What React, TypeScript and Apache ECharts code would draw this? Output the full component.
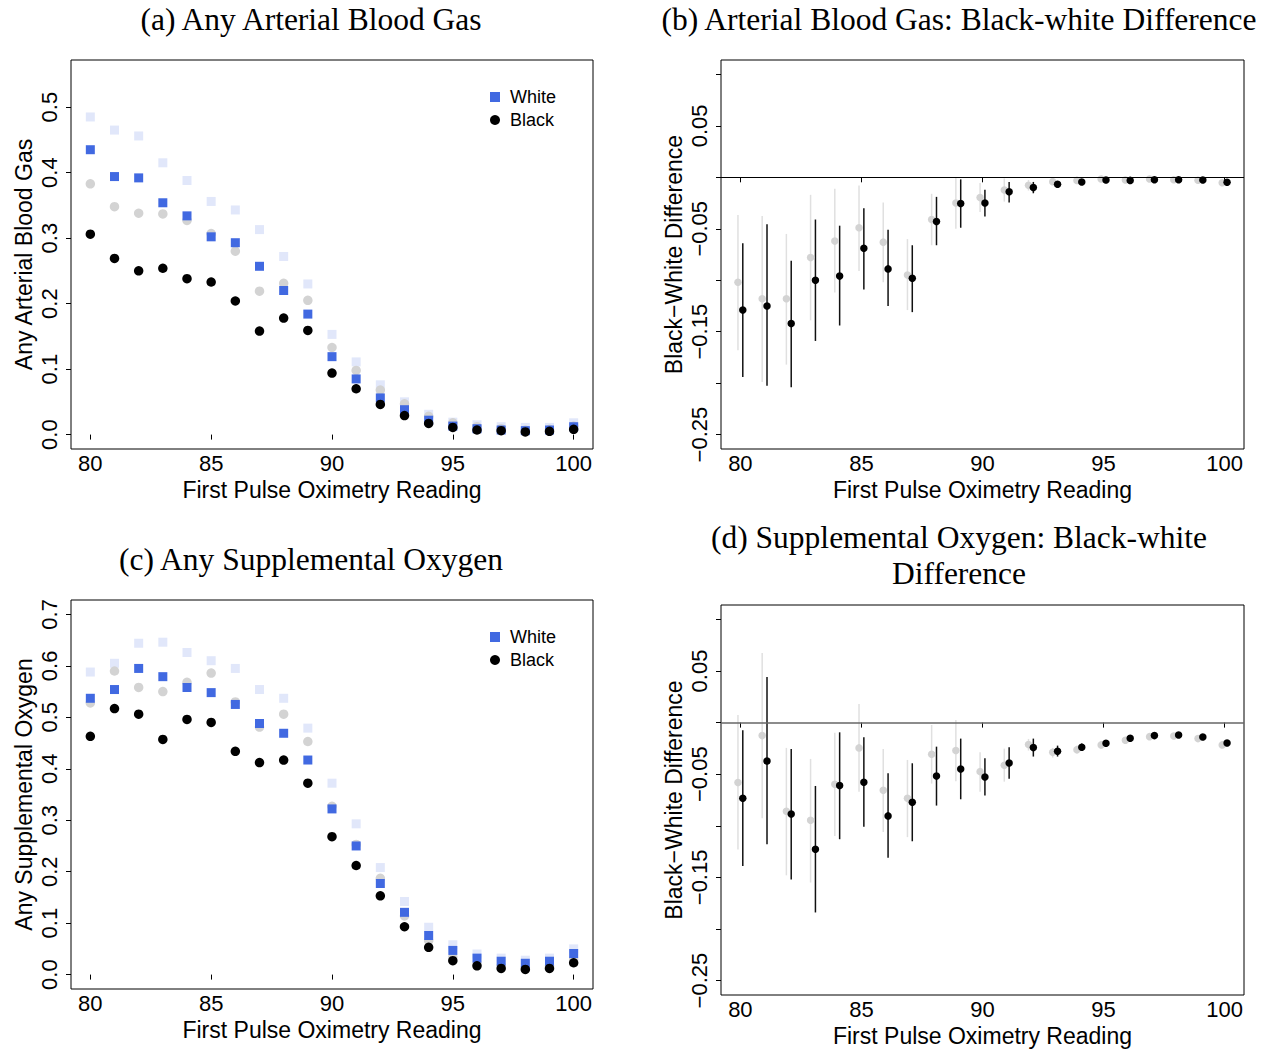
import React, { useEffect, useRef } from 'react';
import * as echarts from 'echarts';

// ---------- data ----------
const oximetry = [80, 81, 82, 83, 84, 85, 86, 87, 88, 89, 90, 91, 92, 93, 94, 95, 96, 97, 98, 99, 100];
const xTicks = [80, 85, 90, 95, 100];
const abgTicks = [0, 0.1, 0.2, 0.3, 0.4, 0.5];
const o2Ticks = [0, 0.1, 0.2, 0.3, 0.4, 0.5, 0.6, 0.7];
const diffTicks = [0.1, 0.05, 0, -0.05, -0.1, -0.15, -0.2, -0.25];
const diffLabels = [0.05, -0.05, -0.15, -0.25];

// (a) Any arterial blood gas
const abgWhite = [0.435, 0.394, 0.392, 0.354, 0.334, 0.302, 0.293, 0.257, 0.220, 0.184, 0.119, 0.085, 0.056, 0.038, 0.022, 0.013, 0.009, 0.007, 0.006, 0.007, 0.012];
const abgWhiteAlt = [0.485, 0.465, 0.456, 0.415, 0.388, 0.356, 0.343, 0.313, 0.272, 0.230, 0.153, 0.111, 0.076, 0.050, 0.031, 0.019, 0.015, 0.012, 0.011, 0.011, 0.018];
const abgBlackAlt = [0.383, 0.348, 0.338, 0.337, 0.327, 0.307, 0.280, 0.219, 0.231, 0.205, 0.133, 0.098, 0.068, 0.047, 0.028, 0.018, 0.012, 0.009, 0.007, 0.008, 0.013];
const abgBlack = [0.306, 0.269, 0.250, 0.254, 0.238, 0.233, 0.204, 0.158, 0.178, 0.159, 0.094, 0.070, 0.046, 0.029, 0.017, 0.011, 0.007, 0.006, 0.004, 0.005, 0.008];

// (c) Any supplemental oxygen
const o2White = [0.537, 0.554, 0.595, 0.579, 0.558, 0.548, 0.525, 0.488, 0.469, 0.417, 0.322, 0.250, 0.177, 0.121, 0.076, 0.047, 0.032, 0.026, 0.022, 0.026, 0.041];
const o2WhiteAlt = [0.588, 0.605, 0.644, 0.646, 0.626, 0.610, 0.595, 0.554, 0.537, 0.479, 0.372, 0.293, 0.208, 0.142, 0.092, 0.058, 0.040, 0.032, 0.028, 0.032, 0.050];
const o2BlackAlt = [0.528, 0.590, 0.558, 0.550, 0.568, 0.586, 0.530, 0.481, 0.506, 0.453, 0.327, 0.253, 0.187, 0.114, 0.066, 0.034, 0.021, 0.018, 0.014, 0.017, 0.030];
const o2Black = [0.463, 0.517, 0.506, 0.457, 0.496, 0.490, 0.434, 0.412, 0.417, 0.372, 0.268, 0.212, 0.153, 0.093, 0.053, 0.027, 0.017, 0.012, 0.010, 0.012, 0.023];

// (b) ABG black-white difference: adjusted (black) and unadjusted (grey)
const abgDiff = [-0.129, -0.125, -0.142, -0.100, -0.096, -0.069, -0.089, -0.098, -0.043, -0.0255, -0.025, -0.014, -0.010, -0.0068, -0.0045, -0.0026, -0.003, -0.0023, -0.0023, -0.0026, -0.0048];
const abgDiffLo = [-0.194, -0.2025, -0.204, -0.159, -0.144, -0.109, -0.125, -0.131, -0.066, -0.049, -0.038, -0.0245, -0.0155, -0.0095, -0.006, -0.0038, -0.0042, -0.0035, -0.0035, -0.0038, -0.0062];
const abgDiffHi = [-0.064, -0.0455, -0.081, -0.041, -0.047, -0.030, -0.051, -0.066, -0.019, -0.002, -0.012, -0.0045, -0.0045, -0.004, -0.003, -0.0014, -0.0018, -0.0011, -0.0011, -0.0014, -0.0034];
const abgDiffRaw = [-0.102, -0.118, -0.118, -0.078, -0.062, -0.049, -0.063, -0.095, -0.041, -0.0249, -0.0197, -0.0123, -0.0078, -0.0042, -0.003, -0.0016, -0.0026, -0.0016, -0.0023, -0.0029, -0.0052];
const abgDiffRawLo = [-0.168, -0.199, -0.182, -0.139, -0.112, -0.091, -0.102, -0.129, -0.066, -0.050, -0.0336, -0.0236, -0.0129, -0.0065, -0.0045, -0.0028, -0.0038, -0.0028, -0.0035, -0.0041, -0.0066];
const abgDiffRawHi = [-0.0365, -0.0375, -0.055, -0.017, -0.011, -0.008, -0.0245, -0.060, -0.016, 0.0, -0.0055, -0.001, -0.0026, -0.002, -0.0015, -0.0004, -0.0014, -0.0004, -0.0011, -0.0017, -0.0038];

// (d) Supplemental oxygen black-white difference
const o2Diff = [-0.0733, -0.0372, -0.0885, -0.1227, -0.061, -0.0578, -0.0904, -0.0772, -0.0517, -0.045, -0.0527, -0.0391, -0.0242, -0.0278, -0.0239, -0.0200, -0.0152, -0.0126, -0.0120, -0.0139, -0.0197];
const o2DiffLo = [-0.139, -0.118, -0.152, -0.184, -0.113, -0.101, -0.131, -0.115, -0.0804, -0.0743, -0.0707, -0.0543, -0.0329, -0.0329, -0.0275, -0.0232, -0.0180, -0.0150, -0.0144, -0.0165, -0.0225];
const o2DiffHi = [-0.0074, 0.0442, -0.0255, -0.0614, -0.0094, -0.0142, -0.049, -0.0394, -0.0233, -0.0155, -0.0346, -0.0239, -0.0155, -0.0223, -0.0203, -0.0168, -0.0124, -0.0102, -0.0096, -0.0113, -0.0169];
const o2DiffRaw = [-0.0581, -0.0126, -0.0859, -0.0946, -0.0598, -0.0245, -0.0656, -0.0734, -0.0307, -0.0271, -0.0475, -0.0413, -0.0213, -0.0288, -0.0262, -0.0216, -0.0171, -0.0136, -0.0129, -0.0155, -0.0216];
const o2DiffRawLo = [-0.123, -0.0927, -0.148, -0.155, -0.110, -0.0669, -0.106, -0.111, -0.0591, -0.0568, -0.0669, -0.0572, -0.0271, -0.0339, -0.0300, -0.0250, -0.0200, -0.0160, -0.0153, -0.0180, -0.0245];
const o2DiffRawHi = [0.0074, 0.0675, -0.0245, -0.0352, -0.0097, 0.0181, -0.0255, -0.0362, -0.0023, 0.0026, -0.0287, -0.0252, -0.0158, -0.0245, -0.0224, -0.0182, -0.0142, -0.0112, -0.0105, -0.0130, -0.0187];

// ---------- styling ----------
const SANS = '"Liberation Sans", Arial, sans-serif';
const SERIF = '"Liberation Serif", "Times New Roman", serif';
const BLUE = '#4169E1';
const LAVENDER = '#E1E7FA';
const LIGHTGREY = '#D3D3D3';
const DODGE = 0.1;
const SQUARE = 'path://M0,0L10,0L10,10L0,10Z';

const minusFmt = (v: number, d: number) => (v < -1e-9 ? '\u2212' : '') + Math.abs(v).toFixed(d);

function xAxis(gridIndex: number) {
  return {
    type: 'value', gridIndex, min: 79.2, max: 100.8,
    name: 'First Pulse Oximetry Reading', nameLocation: 'middle', nameGap: 29,
    nameTextStyle: { fontSize: 23, fontFamily: SANS, color: '#000' },
    axisLine: { show: false },
    axisTick: { show: true, customValues: xTicks, length: 5, lineStyle: { color: '#000', width: 1 } },
    axisLabel: { customValues: xTicks, fontSize: 22, fontFamily: SANS, color: '#000', margin: 3 },
    splitLine: { show: false },
  };
}

function yAxis(gridIndex: number, min: number, max: number, ticks: number[], labels: number[], name: string, d: number) {
  return {
    type: 'value', gridIndex, min, max,
    name, nameLocation: 'middle', nameGap: 36,
    nameTextStyle: { fontSize: 23, fontFamily: SANS, color: '#000' },
    axisLine: { show: false },
    axisTick: { show: true, customValues: ticks, length: 5, lineStyle: { color: '#000', width: 1 } },
    axisLabel: {
      customValues: labels, fontSize: 22, fontFamily: SANS, color: '#000', margin: 11, rotate: 90,
      formatter: (v: number) => minusFmt(v, d),
    },
    splitLine: { show: false },
  };
}

const pairs = (xs: number[], ys: number[], off = 0) => xs.map((x, i) => [x + off, ys[i]]);
const bars = (xs: number[], lo: number[], hi: number[], off: number) => xs.map((x, i) => [x + off, lo[i], hi[i]]);

function shareSeries(idx: number, white: number[], whiteAlt: number[], blackAlt: number[], black: number[]) {
  const common = { type: 'scatter', xAxisIndex: idx, yAxisIndex: idx, silent: true };
  return [
    { ...common, name: 'White (unadjusted)', data: pairs(oximetry, whiteAlt), symbol: 'rect', symbolSize: 9, itemStyle: { color: LAVENDER, opacity: 1 } },
    { ...common, name: 'Black (unadjusted)', data: pairs(oximetry, blackAlt), symbol: 'circle', symbolSize: 9.5, itemStyle: { color: LIGHTGREY, opacity: 1 } },
    { ...common, name: 'White', data: pairs(oximetry, white), symbol: 'rect', symbolSize: 9, itemStyle: { color: BLUE, opacity: 1 } },
    { ...common, name: 'Black', data: pairs(oximetry, black), symbol: 'circle', symbolSize: 9.5, itemStyle: { color: '#000', opacity: 1 } },
  ];
}

function errorBarSeries(idx: number, data: number[][], color: string, width: number) {
  return {
    type: 'custom', xAxisIndex: idx, yAxisIndex: idx, silent: true, clip: false,
    encode: { x: 0, y: [1, 2] },
    data,
    renderItem: (params: any, api: any) => {
      const x = api.value(0);
      const p1 = api.coord([x, api.value(1)]);
      const p2 = api.coord([x, api.value(2)]);
      return { type: 'line', shape: { x1: p1[0], y1: p1[1], x2: p2[0], y2: p2[1] }, style: { stroke: color, lineWidth: width } };
    },
  };
}

function diffSeries(idx: number, est: number[], lo: number[], hi: number[], raw: number[], rawLo: number[], rawHi: number[], zeroColor: string, zeroWidth: number) {
  return [
    {
      type: 'scatter', xAxisIndex: idx, yAxisIndex: idx, silent: true, data: [],
      markLine: {
        silent: true, symbol: ['none', 'none'], label: { show: false },
        lineStyle: { color: zeroColor, width: zeroWidth, type: 'solid', opacity: 1 },
        data: [{ yAxis: 0 }],
      },
    },
    errorBarSeries(idx, bars(oximetry, rawLo, rawHi, -DODGE), '#E0E0E0', 1.5),
    { type: 'scatter', xAxisIndex: idx, yAxisIndex: idx, silent: true, data: pairs(oximetry, raw, -DODGE), symbol: 'circle', symbolSize: 7.5, itemStyle: { color: LIGHTGREY, opacity: 1 } },
    errorBarSeries(idx, bars(oximetry, lo, hi, DODGE), '#111', 1.5),
    { type: 'scatter', xAxisIndex: idx, yAxisIndex: idx, silent: true, data: pairs(oximetry, est, DODGE), symbol: 'circle', symbolSize: 7.5, itemStyle: { color: '#000', opacity: 1 } },
  ];
}

function legend(top: number) {
  return {
    orient: 'vertical', left: 485, top, itemWidth: 20, itemHeight: 10, itemGap: 5,
    selectedMode: false,
    textStyle: { fontSize: 18, fontFamily: SANS, color: '#000' },
    data: [{ name: 'White', icon: SQUARE }, { name: 'Black', icon: 'circle' }],
  };
}

function title(text: string, x: number, y: number) {
  return {
    type: 'text', x, y, silent: true,
    style: { text, fontSize: 31.5, fontFamily: SERIF, fill: '#000', align: 'center', verticalAlign: 'middle' },
  };
}

const gridBox = { show: true, borderColor: '#000', borderWidth: 1, backgroundColor: 'transparent', containLabel: false };

const option = {
  animation: false,
  backgroundColor: '#fff',
  grid: [
    { ...gridBox, left: 71, top: 60, width: 522, height: 389 },
    { ...gridBox, left: 721, top: 60, width: 523, height: 389 },
    { ...gridBox, left: 71, top: 600, width: 522, height: 389 },
    { ...gridBox, left: 721, top: 605, width: 523, height: 390 },
  ],
  xAxis: [xAxis(0), xAxis(1), xAxis(2), xAxis(3)],
  yAxis: [
    yAxis(0, -0.022, 0.572, abgTicks, abgTicks, 'Any Arterial Blood Gas', 1),
    yAxis(1, -0.264, 0.114, diffTicks, diffLabels, 'Black\u2212White Difference', 2),
    yAxis(2, -0.028, 0.728, o2Ticks, o2Ticks, 'Any Supplemental Oxygen', 1),
    yAxis(3, -0.264, 0.114, diffTicks, diffLabels, 'Black\u2212White Difference', 2),
  ],
  legend: [legend(83), legend(623)],
  graphic: [
    title('(a) Any Arterial Blood Gas', 311, 19),
    title('(b) Arterial Blood Gas: Black-white Difference', 959, 19),
    title('(c) Any Supplemental Oxygen', 311, 559),
    title('(d) Supplemental Oxygen: Black-white', 959, 537),
    title('Difference', 959, 573),
  ],
  series: [
    ...shareSeries(0, abgWhite, abgWhiteAlt, abgBlackAlt, abgBlack),
    ...diffSeries(1, abgDiff, abgDiffLo, abgDiffHi, abgDiffRaw, abgDiffRawLo, abgDiffRawHi, '#000', 1),
    ...shareSeries(2, o2White, o2WhiteAlt, o2BlackAlt, o2Black),
    ...diffSeries(3, o2Diff, o2DiffLo, o2DiffHi, o2DiffRaw, o2DiffRawLo, o2DiffRawHi, '#666', 1.5),
  ],
};

export default function App() {
  const ref = useRef<HTMLDivElement>(null);
  useEffect(() => {
    const chart = echarts.init(ref.current!, null, { renderer: 'svg' });
    chart.setOption(option as any);
    return () => chart.dispose();
  }, []);
  return (
    <div
      ref={ref}
      style={{ position: 'absolute', left: 0, top: 0, width: 1270, height: 1053, background: '#fff' }}
    />
  );
}
